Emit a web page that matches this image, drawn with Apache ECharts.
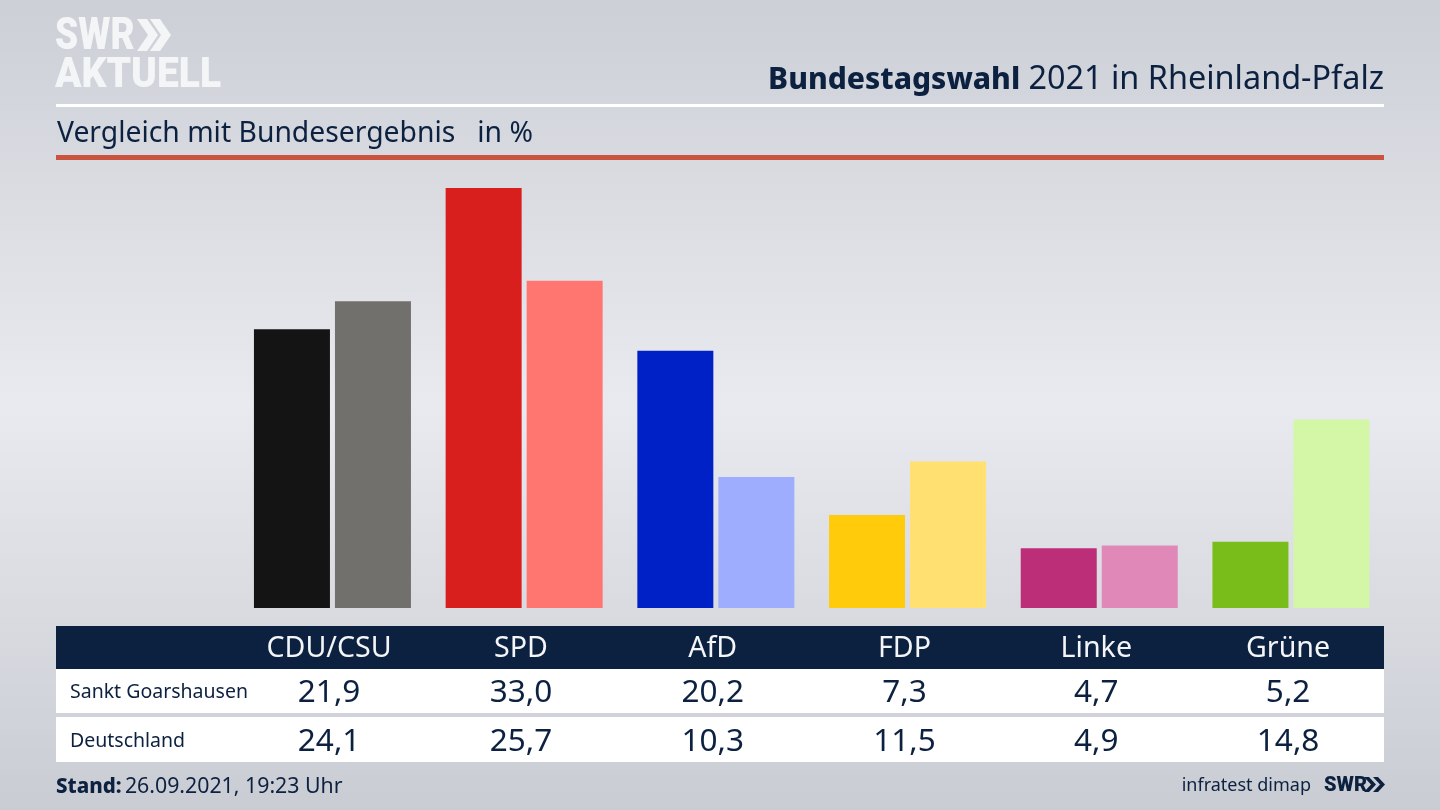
<!DOCTYPE html>
<html><head><meta charset="utf-8">
<style>html,body{margin:0;padding:0;width:1440px;height:810px;overflow:hidden;background:#dfe1e6}#c{width:1440px;height:810px}</style>
<script src="https://cdn.jsdelivr.net/npm/echarts@6/dist/echarts.min.js"></script>
</head><body><div id="c"></div><script>
const categories=['CDU/CSU','SPD','AfD','FDP','Linke','Grüne'];
const rowNames=['Sankt Goarshausen','Deutschland'];
const local=[21.9,33.0,20.2,7.3,4.7,5.2];
const national=[24.1,25.7,10.3,11.5,4.9,14.8];
const localColors=['#141414','#d81f1e','#0021c6','#ffcb0a','#bc2f78','#79bd1b'];
const nationalColors=['#72706d','#ff7570','#9fadff','#ffe070','#e089b8','#d3f7a6'];
const navy='#0c2140';
const font='"Noto Sans"';
const fmt=v=>v.toFixed(1).replace('.',',');
const chart=echarts.init(document.getElementById('c'),null,{renderer:'canvas',width:1440,height:810});
const hiddenY=i=>({type:'value',gridIndex:i,show:false,min:0,max:1});
const rowAxis=(i,data,color,size)=>({type:'category',gridIndex:i,data,axisLine:{show:false},axisTick:{show:false},
  axisLabel:{interval:0,margin:0,verticalAlign:'middle',color,fontFamily:font,fontSize:size}});
const rect=(x,y,w,h,fill)=>({type:'rect',z:-5,shape:{x,y,width:w,height:h},style:{fill},silent:true});
const text=(x,y,t,size,weight,fill,align)=>({type:'text',z:5,x,y,style:{text:t,fontFamily:font,fontSize:size,fontWeight:weight,fill,align:align||'left',verticalAlign:'middle'}});
const chev=(x,y,h,w,t,fill)=>({type:'polygon',z:5,shape:{points:[[x,y],[x+t,y],[x+t+w,y+h/2],[x+t,y+h],[x,y+h],[x+w,y+h/2]]},style:{fill}});
chart.setOption({
 animation:false,
 grid:[
  {left:236.6,width:1150.2,top:162.45,height:445.55},
  {left:233.2,width:1150.8,top:648,height:1},
  {left:233.2,width:1150.8,top:692,height:1},
  {left:233.2,width:1150.8,top:741,height:1}
 ],
 xAxis:[
  {type:'category',gridIndex:0,data:categories,show:false},
  rowAxis(1,categories,'#f4f5f7',28.6),
  rowAxis(2,local.map(fmt),navy,31.5),
  rowAxis(3,national.map(fmt),navy,31.5)
 ],
 yAxis:[{type:'value',gridIndex:0,show:false,min:0,max:35},hiddenY(1),hiddenY(2),hiddenY(3)],
 series:[
  {name:rowNames[0],type:'bar',barWidth:76,barGap:'6.6%',xAxisIndex:0,yAxisIndex:0,
   data:local.map((v,i)=>({value:v,itemStyle:{color:localColors[i]}}))},
  {name:rowNames[1],type:'bar',barWidth:76,xAxisIndex:0,yAxisIndex:0,
   data:national.map((v,i)=>({value:v,itemStyle:{color:nationalColors[i]}}))}
 ],
 graphic:[
  {type:'rect',z:-10,shape:{x:0,y:0,width:1440,height:810},silent:true,style:{fill:new echarts.graphic.LinearGradient(0,0,0,1,[
    {offset:0,color:'#cccfd6'},{offset:.5,color:'#e9eaef'},{offset:1,color:'#c9ccd3'}])}},
  rect(56,104,1328,3,'#ffffff'),
  rect(56,155,1328,5,'#c9533f'),
  rect(56,626,1328,43,navy),
  rect(56,669,1328,44,'#ffffff'),
  rect(56,717,1328,45,'#ffffff'),
  {type:'text',z:5,x:1384,y:80,style:{align:'right',verticalAlign:'middle',
    text:'{b|Bundestagswahl} {r|2021 in Rheinland-Pfalz}',
    rich:{b:{fontFamily:font,fontSize:30,fontWeight:800,fill:navy,color:navy,padding:[0,5,0,0]},r:{fontFamily:font,fontSize:32.4,fill:navy,color:navy}}}},
  text(57,134,'Vergleich mit Bundesergebnis   in %',28.3,400,navy),
  text(70,692,rowNames[0],19.5,400,navy),
  text(70,741,rowNames[1],19.5,400,navy),
  {type:'text',z:5,x:56,y:787,style:{verticalAlign:'middle',text:'{b|Stand:} {r|26.09.2021, 19:23 Uhr}',
    rich:{b:{fontFamily:font,fontSize:20.5,fontWeight:800,fill:navy,color:navy},r:{fontFamily:font,fontSize:21.3,fill:navy,color:navy}}}},
  text(1311,786,'infratest dimap',18,400,navy,'right'),
  {type:'text',z:5,x:1324,y:786,style:{text:'SWR',fontFamily:'Roboto',fontSize:20,fontWeight:900,fill:navy,verticalAlign:'middle'}},
  chev(1364,777,15,7,5,navy),chev(1373,777,15,7,5,navy),
  {type:'text',z:5,x:55,y:38,scaleX:.95,scaleY:1.12,style:{text:'SWR',fontFamily:'Roboto',fontSize:39,fontWeight:900,fill:'#f4f5f7',verticalAlign:'middle'}},
  chev(137,19,32,11,10,'#f4f5f7'),chev(150,19,32,11,10,'#f4f5f7'),
  {type:'text',z:5,x:55,y:76,scaleY:1.1,style:{text:'AKTUELL',fontFamily:'Roboto',fontSize:39,fontWeight:900,fill:'#f4f5f7',verticalAlign:'middle'}}
 ]
});
</script></body></html>
